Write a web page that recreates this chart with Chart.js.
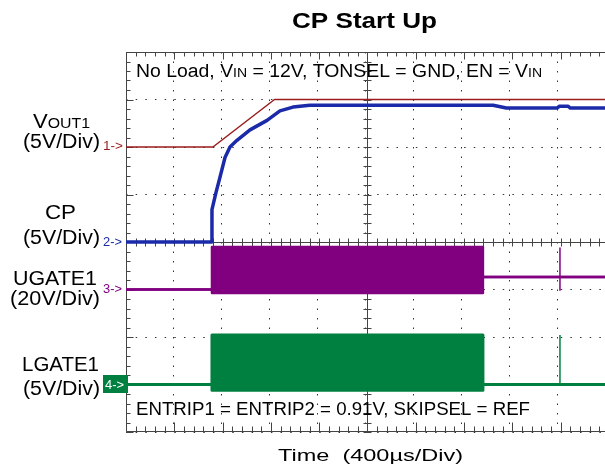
<!DOCTYPE html>
<html>
<head>
<meta charset="utf-8">
<script src="https://cdn.jsdelivr.net/npm/chart.js@4/dist/chart.umd.min.js"></script>
<style>
html, body { margin: 0; padding: 0; background: #fff; }
#wrap { width: 605px; height: 470px; }
</style>
</head>
<body>
<div id="wrap"><canvas id="myChart" width="605" height="470"></canvas></div>
<script>
// tiempo en µs (400µs/div), cada canal en voltios
const tiempoFin = 3967;

const vout1T = [0, 720, 1230, 3967];
const vout1V = [0, 0, 5, 5];

const cpT = [0, 712, 712, 745, 778, 820, 861, 919, 1027, 1168, 1275, 1383, 1522, 3040, 3150, 3570, 3590, 3660, 3680, 3967];
const cpV = [0, 0, 3.4, 5.2, 6.8, 8.9, 10.0, 10.7, 11.8, 12.8, 13.8, 14.2, 14.4, 14.4, 14.1, 14.1, 14.3, 14.3, 14.1, 14.1];

const ugateT = [0, 712, 712, 2956, 2956, 3967];
const ugateMax = [0, 0, 17.9, 17.9, 5.3, 5.3];
const ugateMin = [0, 0, -1.5, -1.5, 5.3, 5.3];
const ugatePicoT = [3594, 3594];
const ugatePicoV = [-0.5, 17.7];

const lgateT = [0, 712, 712, 2956, 2956, 3967];
const lgateMax = [0, 0, 5.2, 5.2, 0, 0];
const lgateMin = [0, 0, -0.6, -0.6, 0, 0];
const lgatePicoT = [3594, 3594];
const lgatePicoV = [0, 5.2];

// posición de tierra (div) y V/div de cada canal
const canales = {
    vout1: { pos: 6, vdiv: 5, color: '#9a1c1c' },
    cp:    { pos: 4, vdiv: 5, color: '#1a2aa8' },
    ugate: { pos: 3, vdiv: 20, color: '#800080' },
    lgate: { pos: 1, vdiv: 5, color: '#008040' }
};

function traza(t, v, canal) {
    return t.map((x, i) => ({ x, y: canal.pos + v[i] / canal.vdiv }));
}

function linea(data, color, ancho, extra) {
    return Object.assign({
        data,
        borderColor: color,
        backgroundColor: color,
        borderWidth: ancho,
        borderJoinStyle: 'round',
        pointRadius: 0,
        showLine: true,
        tension: 0,
        fill: false
    }, extra || {});
}

const datasets = [
    linea(traza(vout1T, vout1V, canales.vout1), canales.vout1.color, 1.5),
    linea(traza(cpT, cpV, canales.cp), canales.cp.color, 3.5),
    linea(traza(ugateT, ugateMax, canales.ugate), canales.ugate.color, 2.5),
    linea(traza(ugateT, ugateMin, canales.ugate), canales.ugate.color, 2.5, { fill: '-1' }),
    linea(traza(ugatePicoT, ugatePicoV, canales.ugate), canales.ugate.color, 1.5),
    linea(traza(lgateT, lgateMax, canales.lgate), canales.lgate.color, 3),
    linea(traza(lgateT, lgateMin, canales.lgate), canales.lgate.color, 3, { fill: '-1' }),
    linea(traza(lgatePicoT, lgatePicoV, canales.lgate), canales.lgate.color, 1.5)
];

const FAMILIA = '"Liberation Sans", Arial, sans-serif';

function texto(ctx, partes, x, yBase, size, ancho, color, bold) {
    ctx.save();
    ctx.fillStyle = color;
    ctx.textBaseline = 'alphabetic';
    const fuente = f => `${bold ? 'bold ' : ''}${(size * f).toFixed(1)}px ${FAMILIA}`;
    let total = 0;
    partes.forEach(([s, f]) => { ctx.font = fuente(f); total += ctx.measureText(s).width; });
    const sx = ancho ? ancho / total : 1;
    ctx.translate(x, yBase);
    ctx.scale(sx, 1);
    let cx = 0;
    partes.forEach(([s, f]) => {
        ctx.font = fuente(f);
        ctx.fillText(s, cx, 0);
        cx += ctx.measureText(s).width;
    });
    ctx.restore();
}

const marco = {
    id: 'marco',
    beforeDatasetsDraw(chart) {
        const { ctx, chartArea: a, scales: { x, y } } = chart;
        ctx.save();
        ctx.strokeStyle = '#444';
        ctx.lineWidth = 1;
        const cx = Math.round(x.getPixelForValue(2000)) + 0.5;
        const cy = Math.round(y.getPixelForValue(4)) + 0.5;
        const L = Math.round(a.left) + 0.5, T = Math.round(a.top) + 0.5, B = Math.round(a.bottom) - 0.5;
        ctx.beginPath();
        ctx.moveTo(a.right, T); ctx.lineTo(L, T); ctx.lineTo(L, B); ctx.lineTo(a.right, B);
        ctx.moveTo(cx, a.top); ctx.lineTo(cx, a.bottom);
        ctx.moveTo(a.left, cy); ctx.lineTo(a.right, cy);
        for (let i = 0; i * 80 <= tiempoFin; i++) {
            const px = Math.round(x.getPixelForValue(i * 80)) + 0.5;
            const mayor = i % 5 === 0;
            ctx.moveTo(px, T); ctx.lineTo(px, T + (mayor ? 7 : 4));
            ctx.moveTo(px, B); ctx.lineTo(px, B - (mayor ? 9 : 5));
            ctx.moveTo(px, cy - 4); ctx.lineTo(px, cy + 4);
        }
        for (let j = 0; j <= 40; j++) {
            const py = Math.round(y.getPixelForValue(j / 5)) + 0.5;
            const mayor = j % 5 === 0;
            ctx.moveTo(L, py); ctx.lineTo(L + (mayor ? 7 : 4), py);
            ctx.moveTo(cx - 4, py); ctx.lineTo(cx + 4, py);
        }
        ctx.stroke();
        ctx.restore();
    }
};

const rotulos = {
    id: 'rotulos',
    afterDraw(chart) {
        const ctx = chart.ctx;
        texto(ctx, [['CP Start Up', 1]], 292, 28, 22, 145, '#000', true);
        texto(ctx, [['No Load, V', 1], ['IN', 0.72], [' = 12V, TONSEL = GND, EN = V', 1], ['IN', 0.72]], 136, 77, 18, 406, '#000');
        texto(ctx, [['ENTRIP1 = ENTRIP2 = 0.91V, SKIPSEL = REF', 1]], 136, 415, 18, 394, '#000');
        texto(ctx, [['Time  (400µs/Div)', 1]], 278, 461, 17, 185, '#000');

        texto(ctx, [['V', 1], ['OUT1', 0.72]], 33, 128, 20, 57, '#000');
        texto(ctx, [['(5V/Div)', 1]], 23, 148, 20, 77, '#000');
        texto(ctx, [['CP', 1]], 45, 219, 20, 31, '#000');
        texto(ctx, [['(5V/Div)', 1]], 23, 244, 20, 77, '#000');
        texto(ctx, [['UGATE1', 1]], 13, 285, 20, 84, '#000');
        texto(ctx, [['(20V/Div)', 1]], 10, 305, 20, 90, '#000');
        texto(ctx, [['LGATE1', 1]], 22, 371, 20, 77, '#000');
        texto(ctx, [['(5V/Div)', 1]], 23, 395, 20, 77, '#000');

        texto(ctx, [['1->', 1]], 103, 150, 13, 20, canales.vout1.color);
        texto(ctx, [['2->', 1]], 103, 246, 13, 19, canales.cp.color);
        texto(ctx, [['3->', 1]], 103, 293, 13, 19, canales.ugate.color);
        ctx.save();
        ctx.fillStyle = canales.lgate.color;
        ctx.fillRect(103, 375, 25, 18);
        ctx.restore();
        texto(ctx, [['4->', 1]], 105, 389, 13, 19, '#fff');
    }
};

const ctxGrafico = document.getElementById('myChart');
new Chart(ctxGrafico, {
    type: 'scatter',
    data: { datasets },
    options: {
        responsive: false,
        animation: false,
        layout: { padding: { left: 126, top: 52, right: 0, bottom: 38 } },
        plugins: { legend: { display: false }, tooltip: { enabled: false }, title: { display: false } },
        scales: {
            x: {
                type: 'linear', min: 0, max: tiempoFin,
                ticks: { display: false, stepSize: 400 },
                grid: { color: '#333', lineWidth: 1, drawTicks: false },
                border: { display: false, dash: [1.5, 8] }
            },
            y: {
                type: 'linear', min: 0, max: 8,
                ticks: { display: false, stepSize: 1 },
                grid: { color: '#333', lineWidth: 1, drawTicks: false },
                border: { display: false, dash: [1.5, 8.16] }
            }
        }
    },
    plugins: [marco, rotulos]
});
</script>
</body>
</html>
